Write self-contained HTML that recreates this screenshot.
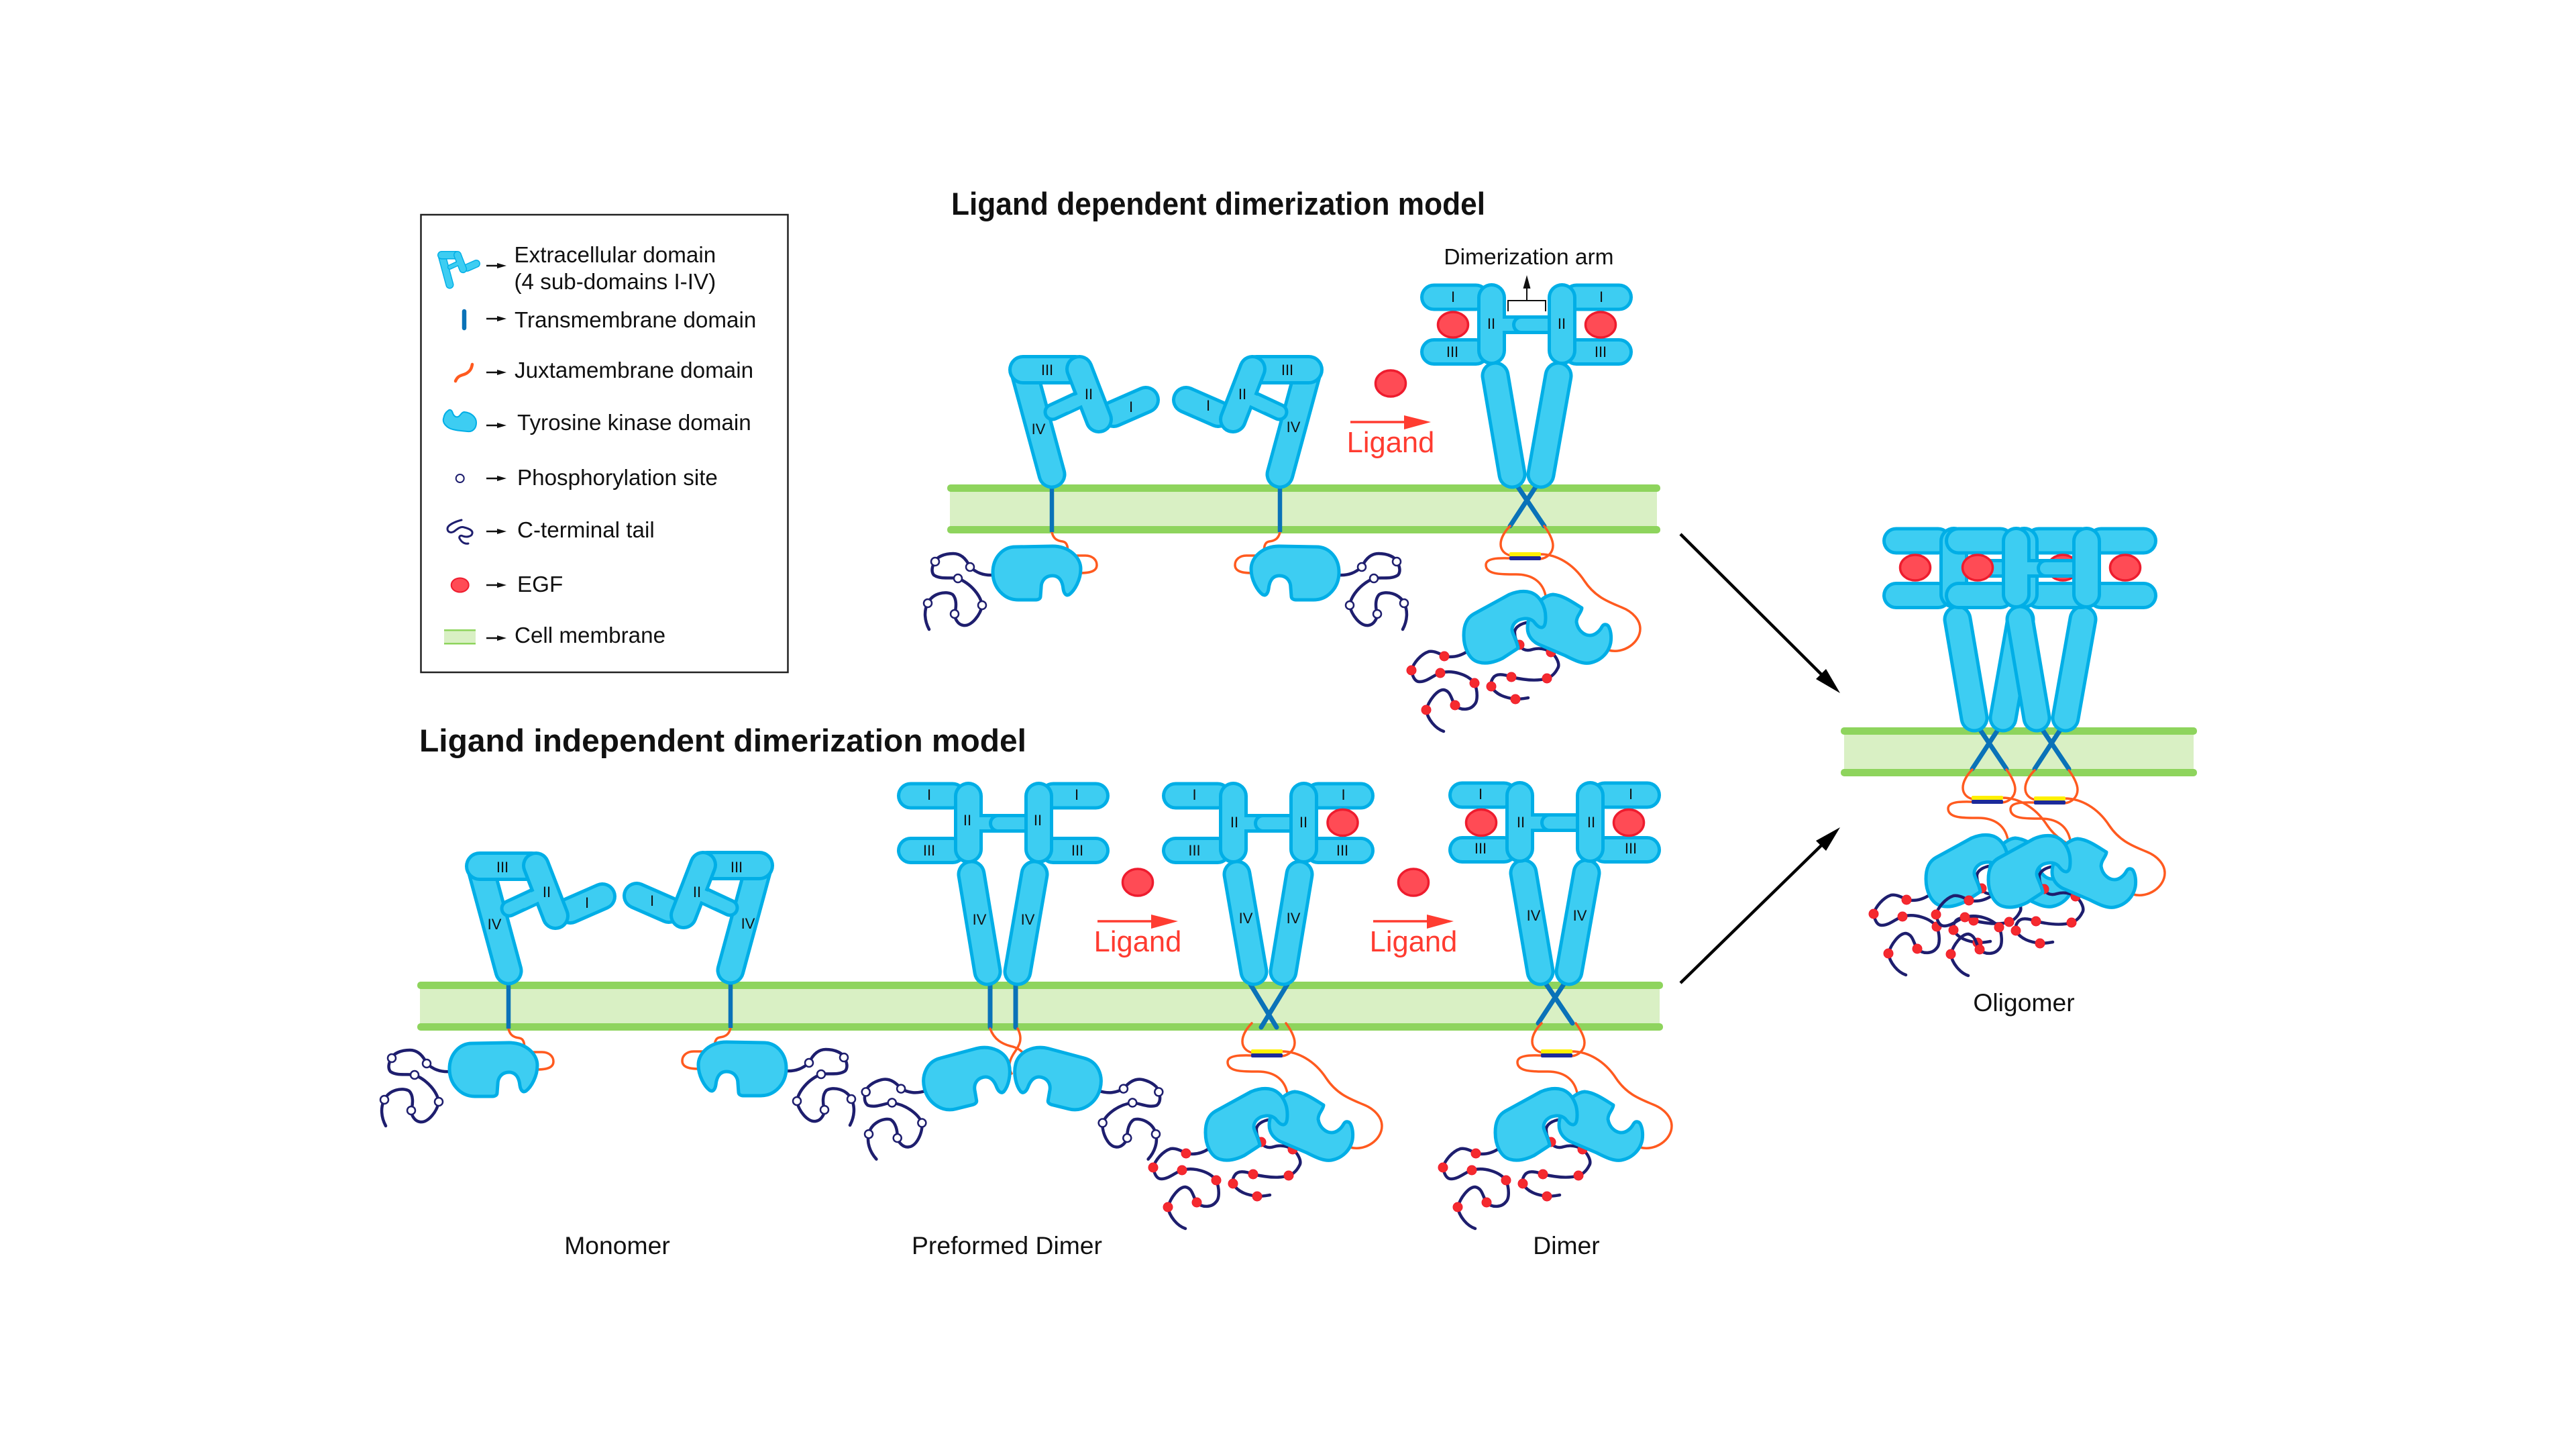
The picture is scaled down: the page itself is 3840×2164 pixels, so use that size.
<!DOCTYPE html>
<html><head><meta charset="utf-8"><title>Ligand dimerization models</title>
<style>
html,body{margin:0;padding:0;background:#fff}
svg{display:block}
text{font-family:"Liberation Sans",sans-serif;fill:#111}
.t{font-size:37.3px;text-anchor:middle}
.lg{font-size:33.2px}
.r{font-size:22px;text-anchor:middle;fill:#111}
.lig{font-size:43.5px;text-anchor:middle;fill:#ff3b30}
.title{font-size:47px;font-weight:bold}
.o,.i{fill:none;stroke-linecap:round}
.o{stroke:#00aee6}
.i{stroke:#3dcdf2}
.k{fill:#3dcdf2;stroke:#00aee6;stroke-width:5;stroke-linejoin:round}
.j{fill:none;stroke:#ff5a1f;stroke-width:3.5;stroke-linecap:round}
.n{fill:none;stroke:#1e1e6e;stroke-width:4.5;stroke-linecap:round}
.s{fill:#fff;stroke:#1e1e6e;stroke-width:2.5}
.d{fill:#f52a2e;stroke:#ee1c2e;stroke-width:1}
.e{fill:#ff4b55;stroke:#ee1c2e;stroke-width:3.5}
.tm{fill:none;stroke:#0a72b8;stroke-width:7;stroke-linecap:round}
.band{fill:#8ed45d}
.mem{fill:#d9f0c4}
</style></head><body>
<svg xmlns="http://www.w3.org/2000/svg" width="3840" height="2164" viewBox="0 0 3840 2164">
<defs>
<g id="ecto">
<line class="o" x1="1526" y1="552" x2="1568" y2="707" stroke-width="43"/><line class="i" x1="1526" y1="552" x2="1568" y2="707" stroke-width="33"/>
<line class="o" x1="1525" y1="551" x2="1603" y2="551" stroke-width="44"/><line class="i" x1="1525" y1="551" x2="1603" y2="551" stroke-width="34"/>
<line class="o" x1="1660" y1="617" x2="1708" y2="596" stroke-width="42"/><line class="i" x1="1660" y1="617" x2="1708" y2="596" stroke-width="32"/>
<line class="o" x1="1569" y1="614" x2="1612" y2="594" stroke-width="27"/><line class="i" x1="1569" y1="614" x2="1612" y2="594" stroke-width="17"/>
<line class="o" x1="1609" y1="550" x2="1638" y2="625" stroke-width="42"/><line class="i" x1="1609" y1="550" x2="1638" y2="625" stroke-width="32"/>
<line class="i" x1="1590" y1="605" x2="1628" y2="587" stroke-width="17"/>
</g>
<g id="mlink">
<path class="j" d="M1568,793 C1570,803 1576,806 1584,807 C1591,808 1592,815 1592,826"/>
<line x1="1568" y1="726" x2="1568" y2="793" stroke="#0a72b8" stroke-width="6.5"/>
</g>
<g id="mtail">
<path class="n" d="M1481,857 C1465,858 1455,853 1446,845 C1440,832 1432,825 1421,825 C1408,825 1396,830 1394,837 C1389,844 1388,852 1392,857 C1402,864 1416,860 1428,862 C1448,870 1462,888 1464,902 C1462,916 1448,934 1436,932 C1428,931 1423,922 1423,915 C1426,904 1426,892 1420,886 C1410,880 1390,884 1383,899 C1377,910 1378,925 1385,938"/>
<circle class="s" cx="1446" cy="845" r="6"/><circle class="s" cx="1394" cy="837" r="6"/><circle class="s" cx="1428" cy="862" r="6"/><circle class="s" cx="1464" cy="902" r="6"/><circle class="s" cx="1423" cy="915" r="6"/><circle class="s" cx="1383" cy="899" r="6"/>
</g>
<path id="mkp" class="k" d="M1514,815 L1569,814 C1593,814 1611,830 1611,848 C1611,864 1602,880 1594,886 C1589,889 1586,884 1585,878 C1584,868 1580,858 1569,858 C1558,858 1552,866 1552,876 L1551,889 C1551,892 1548,894 1544,894 L1518,894 C1496,894 1480,875 1480,853 C1480,832 1494,815 1514,815 Z"/>
<g id="mkin">
<path class="j" d="M1602,828 L1618,828 C1628,828 1635,834 1635,842 C1635,850 1628,854 1610,854"/>
<use href="#mtail"/>
<use href="#mkp"/>
</g>
<g id="head">
<line class="o" x1="2137.5" y1="443" x2="2200" y2="443" stroke-width="41"/><line class="i" x1="2137.5" y1="443" x2="2200" y2="443" stroke-width="31"/>
<line class="o" x1="2137.5" y1="524.5" x2="2200" y2="524.5" stroke-width="41"/><line class="i" x1="2137.5" y1="524.5" x2="2200" y2="524.5" stroke-width="31"/>
<line class="o" x1="2350" y1="443" x2="2413.5" y2="443" stroke-width="41"/><line class="i" x1="2350" y1="443" x2="2413.5" y2="443" stroke-width="31"/>
<line class="o" x1="2350" y1="524.5" x2="2413.5" y2="524.5" stroke-width="41"/><line class="i" x1="2350" y1="524.5" x2="2413.5" y2="524.5" stroke-width="31"/>
<line class="o" style="stroke-linecap:butt" x1="2230" y1="484" x2="2290" y2="484" stroke-width="28"/><line class="i" style="stroke-linecap:butt" x1="2230" y1="484" x2="2290" y2="484" stroke-width="18"/>
<line class="o" x1="2268" y1="484" x2="2330" y2="484" stroke-width="28"/><line class="i" x1="2268" y1="484" x2="2330" y2="484" stroke-width="18"/>
<line class="o" x1="2223.5" y1="443.5" x2="2223.5" y2="522.5" stroke-width="43"/><line class="i" x1="2223.5" y1="443.5" x2="2223.5" y2="522.5" stroke-width="33"/>
<line class="o" x1="2328.5" y1="443.5" x2="2328.5" y2="522.5" stroke-width="43"/><line class="i" x1="2328.5" y1="443.5" x2="2328.5" y2="522.5" stroke-width="33"/>
<line class="i" style="stroke-linecap:butt" x1="2232" y1="484" x2="2252" y2="484" stroke-width="18"/>
<line class="i" style="stroke-linecap:butt" x1="2318" y1="484" x2="2338" y2="484" stroke-width="18"/>
</g>
<g id="v">
<line class="o" x1="2229" y1="560" x2="2254" y2="707" stroke-width="43"/><line class="i" x1="2229" y1="560" x2="2254" y2="707" stroke-width="33"/>
<line class="o" x1="2323" y1="560" x2="2297" y2="707" stroke-width="43"/><line class="i" x1="2323" y1="560" x2="2297" y2="707" stroke-width="33"/>
</g>
<g id="x">
<line class="tm" x1="2263" y1="726" x2="2302" y2="784"/><line class="tm" x1="2289" y1="726" x2="2251" y2="784"/>
</g>
<g id="cyto">
<path class="j" d="M2251,784 C2243,792 2237,802 2237,811 C2237,820 2243,826 2252,828"/>
<path class="j" d="M2302,784 C2308,792 2315,804 2315,813 C2315,824 2306,832 2296,833"/>
<path class="j" d="M2252,832 C2240,832 2215,830 2215,842 C2215,857 2240,856 2260,856 C2285,856 2300,868 2304,888"/>
<path class="j" d="M2296,826 C2320,826 2345,840 2362,866 C2378,890 2398,897 2417,905 C2435,912 2445,925 2445,937 C2445,958 2420,975 2398,969"/>
<rect x="2250" y="823" width="47" height="6" rx="2" fill="#fff000"/><rect x="2250" y="829" width="47" height="6" rx="2" fill="#1c2a9a"/>
<path class="n" d="M2187,971 C2175,979 2163,980 2153,978 C2143,972 2136,970 2130,971 C2118,975 2107,988 2104,999 C2106,1010 2110,1016 2116,1016 C2128,1016 2137,1006 2147,1003 C2165,998 2188,1005 2198,1018 C2203,1030 2203,1045 2198,1050 C2192,1058 2178,1060 2169,1051 C2163,1042 2163,1030 2152,1028 C2142,1028 2130,1044 2126,1058 C2128,1072 2140,1086 2152,1090"/>
<path class="n" d="M2275,928 C2263,931 2257,937 2258,944 C2258,952 2262,958 2265,961 C2269,970 2278,970 2284,968 C2294,965 2304,967 2312,972 C2320,978 2326,990 2322,996 C2318,1004 2312,1009 2306,1011 C2290,1016 2270,1013 2253,1009 C2240,1004 2230,1004 2226,1010 C2223,1014 2222,1018 2223,1023 C2230,1036 2245,1040 2259,1042 C2267,1042 2272,1041 2278,1040"/>
<circle class="d" cx="2153" cy="978" r="7"/><circle class="d" cx="2104" cy="999" r="7"/><circle class="d" cx="2147" cy="1003" r="7"/><circle class="d" cx="2198" cy="1018" r="7"/><circle class="d" cx="2169" cy="1051" r="7"/><circle class="d" cx="2126" cy="1058" r="7"/>
<circle class="d" cx="2265" cy="961" r="7"/><circle class="d" cx="2312" cy="972" r="7"/><circle class="d" cx="2306" cy="1011" r="7"/><circle class="d" cx="2253" cy="1009" r="7"/><circle class="d" cx="2223" cy="1023" r="7"/><circle class="d" cx="2259" cy="1042" r="7"/>
<path class="k" d="M2315,886 C2330,887 2345,898 2358,906 C2358,912 2350,918 2350,927 C2352,940 2362,947 2370,947 C2378,947 2385,940 2388,934 C2391,929 2397,930 2399,936 C2402,943 2402,952 2401,958 C2398,973 2386,985 2370,988 C2358,990 2345,983 2333,977 L2293,960 C2285,956 2277,948 2277,936 C2277,915 2295,888 2315,886 Z"/>
<path class="k" d="M2197,915 L2250,886 C2262,881 2272,880 2282,883 C2296,888 2304,904 2304,920 C2304,928 2303,934 2299,935 C2294,936 2290,931 2286,926 C2280,921 2272,921 2264,924 C2256,928 2252,936 2255,943 C2258,951 2262,958 2263,966 L2240,981 C2228,987 2215,990 2205,987 C2190,984 2182,965 2182,947 C2182,932 2186,921 2197,915 Z"/>
</g>
<g id="ligarrow">
<line x1="2013" y1="629" x2="2095" y2="629" stroke="#ff3c30" stroke-width="3.5"/><polygon points="2093,619 2133,629 2093,640" fill="#ff3c30"/>
</g>
<g id="ga"><line x1="0" y1="0" x2="20" y2="0" stroke="#111" stroke-width="2.5"/><polygon points="16,-4 30,0 16,4" fill="#111"/></g>
</defs>

<rect width="3840" height="2164" fill="#fff"/>

<!-- Legend -->
<rect x="627.5" y="320" width="547" height="682" fill="#fff" stroke="#222" stroke-width="2.5"/>
<use href="#ecto" transform="translate(652,374) scale(.283) translate(-1503,-529)"/>
<line x1="692" y1="464" x2="692" y2="489" stroke="#0a72b8" stroke-width="6.5" stroke-linecap="round"/>
<path d="M679,568 C683,558 690,560 696,556 C702,552 703,548 704,543" fill="none" stroke="#ff5a1f" stroke-width="4.5" stroke-linecap="round"/>
<path class="k" style="stroke-width:2" d="M668,612 C671,609 674,612 675,616 C677,621 680,622 683,621 C686,620 688,614 692,614 C703,615 710,622 710,630 C710,639 704,644 697,643 C686,642 673,641 668,637 C662,633 660,628 661,624 C662,618 665,614 668,612 Z"/>
<ellipse cx="685.7" cy="713" rx="6" ry="6" fill="#fff" stroke="#1e1e6e" stroke-width="2"/>
<path d="M688,775 C680,777 667,782 667,788 C667,793 672,795 677,792 C681,789 686,784 692,786 C700,788 705,791 704,795 C703,800 695,801 690,799 C686,797 683,800 686,804 C689,809 694,811 698,810" fill="none" stroke="#1e1e6e" stroke-width="3" stroke-linecap="round"/>
<ellipse class="e" style="stroke-width:2" cx="685.7" cy="872" rx="13" ry="10.5"/>
<rect x="662" y="939" width="47" height="20" class="mem"/><rect x="662" y="938" width="47" height="2.5" class="band"/><rect x="662" y="958" width="47" height="2.5" class="band"/>
<use href="#ga" x="725" y="396"/><use href="#ga" x="725" y="475"/><use href="#ga" x="725" y="555"/><use href="#ga" x="725" y="634"/><use href="#ga" x="725" y="713"/><use href="#ga" x="725" y="792"/><use href="#ga" x="725" y="872"/><use href="#ga" x="725" y="951"/>
<text class="lg" x="766.5" y="391">Extracellular domain</text>
<text class="lg" x="766.5" y="431">(4 sub-domains I-IV)</text>
<text class="lg" x="767" y="488">Transmembrane domain</text>
<text class="lg" x="767" y="563">Juxtamembrane domain</text>
<text class="lg" x="771" y="641">Tyrosine kinase domain</text>
<text class="lg" x="771" y="723">Phosphorylation site</text>
<text class="lg" x="771" y="801">C-terminal tail</text>
<text class="lg" x="771" y="882">EGF</text>
<text class="lg" x="767" y="958">Cell membrane</text>

<!-- Titles -->
<text class="title" x="1418" y="320" textLength="796" lengthAdjust="spacingAndGlyphs">Ligand dependent dimerization model</text>
<text class="title" x="625" y="1120" textLength="905" lengthAdjust="spacingAndGlyphs">Ligand independent dimerization model</text>

<!-- Membranes -->
<rect x="1416" y="727" width="1054" height="63" class="mem"/><rect x="1412" y="722" width="1063" height="11" rx="5" class="band"/><rect x="1412" y="784" width="1063" height="11" rx="5" class="band"/>
<rect x="626" y="1468" width="1848" height="63" class="mem"/><rect x="622" y="1463" width="1857" height="11" rx="5" class="band"/><rect x="622" y="1525" width="1857" height="11" rx="5" class="band"/>
<rect x="2749" y="1089" width="521" height="63" class="mem"/><rect x="2744" y="1084" width="531" height="11" rx="5" class="band"/><rect x="2744" y="1146" width="531" height="11" rx="5" class="band"/>

<!-- Top monomers -->
<use href="#mlink"/><use href="#mkin"/><use href="#ecto"/>
<g transform="translate(3476,0) scale(-1,1)"><use href="#mlink"/><use href="#mkin"/><use href="#ecto"/></g>
<text class="r" x="1561" y="559">III</text><text class="r" x="1623" y="595">II</text><text class="r" x="1686" y="614">I</text><text class="r" x="1548" y="647">IV</text>
<text class="r" x="1919" y="559">III</text><text class="r" x="1852" y="595">II</text><text class="r" x="1801" y="612">I</text><text class="r" x="1928" y="644">IV</text>

<!-- Top dimer -->
<use href="#x"/><use href="#cyto"/><use href="#v"/><use href="#head"/>
<ellipse class="e" cx="2166" cy="484" rx="22.5" ry="19"/><ellipse class="e" cx="2386" cy="484" rx="22.5" ry="19"/>
<text class="r" x="2166" y="450">I</text><text class="r" x="2387" y="450">I</text><text class="r" x="2223" y="490">II</text><text class="r" x="2328" y="490">II</text><text class="r" x="2165" y="532">III</text><text class="r" x="2386" y="532">III</text>
<path d="M2248,464 L2248,448 L2304,448 L2304,464" fill="none" stroke="#111" stroke-width="2"/>
<line x1="2276" y1="448" x2="2276" y2="425" stroke="#111" stroke-width="2"/><polygon points="2276,410 2281.5,430 2270.5,430" fill="#111"/>
<text x="2279" y="394" style="font-size:33.5px;text-anchor:middle">Dimerization arm</text>
<ellipse class="e" cx="2073" cy="571.5" rx="22.5" ry="19.5"/>
<use href="#ligarrow"/>
<text class="lig" x="2073" y="674">Ligand</text>

<!-- Bottom monomers -->
<g transform="translate(-810,740)"><use href="#mlink"/><use href="#mkin"/><use href="#ecto"/></g>
<g transform="translate(2657,739) scale(-1,1)"><use href="#mlink"/><use href="#ecto"/></g>
<g transform="translate(2652,739) scale(-1,1)"><use href="#mkin"/></g>
<text class="r" x="749" y="1300">III</text><text class="r" x="815" y="1337">II</text><text class="r" x="875" y="1353">I</text><text class="r" x="737" y="1385">IV</text>
<text class="r" x="1098" y="1300">III</text><text class="r" x="1039" y="1337">II</text><text class="r" x="972" y="1350">I</text><text class="r" x="1115" y="1384">IV</text>

<!-- Preformed dimer -->
<line x1="1476" y1="1467" x2="1476" y2="1531" class="tm"/><line x1="1514" y1="1467" x2="1514" y2="1531" class="tm"/>
<path class="j" d="M1476,1533 C1482,1550 1495,1556 1506,1559 C1516,1561 1524,1566 1528,1574"/>
<path class="j" d="M1517,1533 C1527,1552 1516,1562 1510,1572 C1504,1582 1503,1592 1508,1600"/>
<use href="#mtail" transform="translate(1379,1626) rotate(-14) translate(-1480,-857)"/>
<use href="#mkp" transform="translate(1379,1626) rotate(-14) translate(-1480,-857)"/>
<g transform="translate(3018,0) scale(-1,1)">
<use href="#mtail" transform="translate(1379,1626) rotate(-14) translate(-1480,-857)"/>
<use href="#mkp" transform="translate(1379,1626) rotate(-14) translate(-1480,-857)"/>
</g>
<line class="o" x1="1448" y1="1303" x2="1472" y2="1448" stroke-width="43"/><line class="i" x1="1448" y1="1303" x2="1472" y2="1448" stroke-width="33"/>
<line class="o" x1="1542" y1="1303" x2="1517" y2="1448" stroke-width="43"/><line class="i" x1="1542" y1="1303" x2="1517" y2="1448" stroke-width="33"/>
<use href="#head" transform="translate(-780,743)"/>
<text class="r" x="1385" y="1192">I</text><text class="r" x="1605" y="1192">I</text><text class="r" x="1442" y="1230">II</text><text class="r" x="1547" y="1230">II</text><text class="r" x="1385" y="1275">III</text><text class="r" x="1606" y="1275">III</text><text class="r" x="1460" y="1378">IV</text><text class="r" x="1532" y="1378">IV</text>

<!-- Second dimer -->
<line class="tm" x1="1864" y1="1467" x2="1903" y2="1531"/><line class="tm" x1="1919" y1="1467" x2="1880" y2="1531"/>
<use href="#cyto" transform="translate(-385,741)"/>
<line class="o" x1="1844" y1="1303" x2="1869" y2="1448" stroke-width="43"/><line class="i" x1="1844" y1="1303" x2="1869" y2="1448" stroke-width="33"/>
<line class="o" x1="1937" y1="1303" x2="1913" y2="1448" stroke-width="43"/><line class="i" x1="1937" y1="1303" x2="1913" y2="1448" stroke-width="33"/>
<use href="#head" transform="translate(-385,743)"/>
<ellipse class="e" cx="2001.5" cy="1226" rx="22.5" ry="19.5"/>
<text class="r" x="1780.5" y="1192">I</text><text class="r" x="2002.5" y="1192">I</text><text class="r" x="1840" y="1233">II</text><text class="r" x="1943" y="1233">II</text><text class="r" x="1780.5" y="1275">III</text><text class="r" x="2001" y="1275">III</text><text class="r" x="1857" y="1376">IV</text><text class="r" x="1928" y="1376">IV</text>

<!-- Third dimer -->
<use href="#x" transform="translate(42,741)"/>
<use href="#cyto" transform="translate(47,741)"/>
<use href="#v" transform="translate(42,741)"/>
<use href="#head" transform="translate(42,742)"/>
<ellipse class="e" cx="2208" cy="1226" rx="22.5" ry="19.5"/><ellipse class="e" cx="2428" cy="1226" rx="22.5" ry="19.5"/>
<text class="r" x="2207" y="1191">I</text><text class="r" x="2431" y="1191">I</text><text class="r" x="2267" y="1233">II</text><text class="r" x="2372" y="1233">II</text><text class="r" x="2207" y="1272">III</text><text class="r" x="2431" y="1272">III</text><text class="r" x="2286" y="1372">IV</text><text class="r" x="2355" y="1372">IV</text>

<!-- Ligands bottom -->
<ellipse class="e" cx="1696" cy="1315" rx="22.5" ry="20"/>
<use href="#ligarrow" transform="translate(-377,744)"/>
<text class="lig" x="1696" y="1418">Ligand</text>
<ellipse class="e" cx="2107" cy="1315" rx="22.5" ry="20"/>
<use href="#ligarrow" transform="translate(34,744)"/>
<text class="lig" x="2107" y="1418">Ligand</text>

<!-- Big arrows -->
<line x1="2505" y1="796" x2="2716" y2="1006" stroke="#000" stroke-width="4.5"/>
<polygon points="2743,1033 2707,1012 2722,997" fill="#000"/>
<line x1="2505" y1="1465" x2="2716" y2="1259" stroke="#000" stroke-width="4.5"/>
<polygon points="2743,1233 2707,1253 2722,1268" fill="#000"/>

<!-- Oligomer -->
<use href="#x" transform="translate(689,362)"/><use href="#x" transform="translate(782,362)"/>
<use href="#cyto" transform="translate(689,363)"/><use href="#cyto" transform="translate(782,364)"/>
<use href="#v" transform="translate(689,363)"/><use href="#v" transform="translate(782,363)"/>
<use href="#head" transform="translate(689,363)"/>
<ellipse class="e" cx="2855" cy="846" rx="22.5" ry="19"/><ellipse class="e" cx="3075" cy="846" rx="22.5" ry="19"/>
<use href="#head" transform="translate(782,363)"/>
<ellipse class="e" cx="2948" cy="846" rx="22.5" ry="19"/><ellipse class="e" cx="3168" cy="846" rx="22.5" ry="19"/>

<!-- Captions -->
<text class="t" x="920" y="1869">Monomer</text>
<text class="t" x="1501" y="1869">Preformed Dimer</text>
<text class="t" x="2335" y="1869">Dimer</text>
<text class="t" x="3017" y="1507">Oligomer</text>
</svg>
</body></html>
